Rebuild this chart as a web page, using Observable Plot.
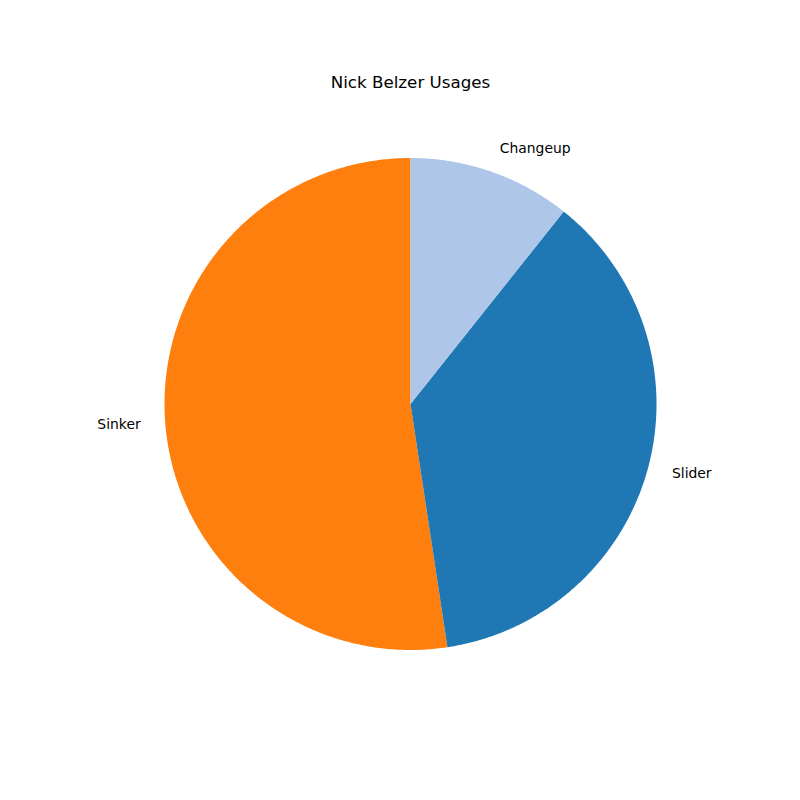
<!DOCTYPE html>
<html>
<head>
<meta charset="utf-8">
<script src="https://cdn.jsdelivr.net/npm/d3@7"></script>
<script src="https://cdn.jsdelivr.net/npm/@observablehq/plot@0.6"></script>
<style>
  html, body { margin: 0; padding: 0; background: #fff; }
  #chart svg { display: block; }
</style>
</head>
<body>
<div id="chart"></div>
<script>
const title = "Nick Belzer Usages";
const pitches = ["Sinker", "Slider", "Changeup"];
const usages = [52.4, 36.9, 10.7];
const colors = ["#ff7f0e", "#1f77b4", "#aec7e8"];

// matplotlib-style pie: start at 90°, counterclockwise
const total = d3.sum(usages);
let start = 90;
const slices = pitches.map((name, i) => {
  const span = usages[i] / total * 360;
  const s = { name, value: usages[i], color: colors[i], a0: start, a1: start + span };
  start += span;
  return s;
});

const rad = d => d * Math.PI / 180;
const wedgePts = [];
for (const s of slices) {
  wedgePts.push({ name: s.name, x: 0, y: 0 });
  const n = Math.max(2, Math.ceil((s.a1 - s.a0) / 0.5));
  for (let k = 0; k <= n; k++) {
    const a = rad(s.a0 + (s.a1 - s.a0) * k / n);
    wedgePts.push({ name: s.name, x: Math.cos(a), y: Math.sin(a) });
  }
}
const labels = slices.map(s => {
  const m = rad((s.a0 + s.a1) / 2);
  return { name: s.name, x: 1.1 * Math.cos(m), y: 1.1 * Math.sin(m) };
});

const W = 800, H = 800, cx = 410, cy = 403.5, R = 246;
const chart = Plot.plot({
  width: W, height: H,
  margin: 0,
  style: { fontFamily: "DejaVu Sans", background: "#fff" },
  x: { domain: [-cx / R, (W - cx) / R], range: [0, W], axis: null },
  y: { domain: [(cy - H) / R, cy / R], range: [H, 0], axis: null },
  marks: [
    ...slices.map(s => Plot.line(wedgePts.filter(p => p.name === s.name), {
      x: "x", y: "y", curve: "linear-closed", fill: s.color, stroke: "none"
    })),
    Plot.text(labels.filter(d => d.x < 0), { x: "x", y: "y", text: "name", textAnchor: "end", fontSize: 13.9, fill: "#000" }),
    Plot.text(labels.filter(d => d.x >= 0), { x: "x", y: "y", text: "name", textAnchor: "start", fontSize: 13.9, fill: "#000" }),
    Plot.text([title], { frameAnchor: "top", dy: 76, text: d => d, fontSize: 16.7, fill: "#000", dx: 10 })
  ]
});
document.getElementById("chart").appendChild(chart);
</script>
</body>
</html>
